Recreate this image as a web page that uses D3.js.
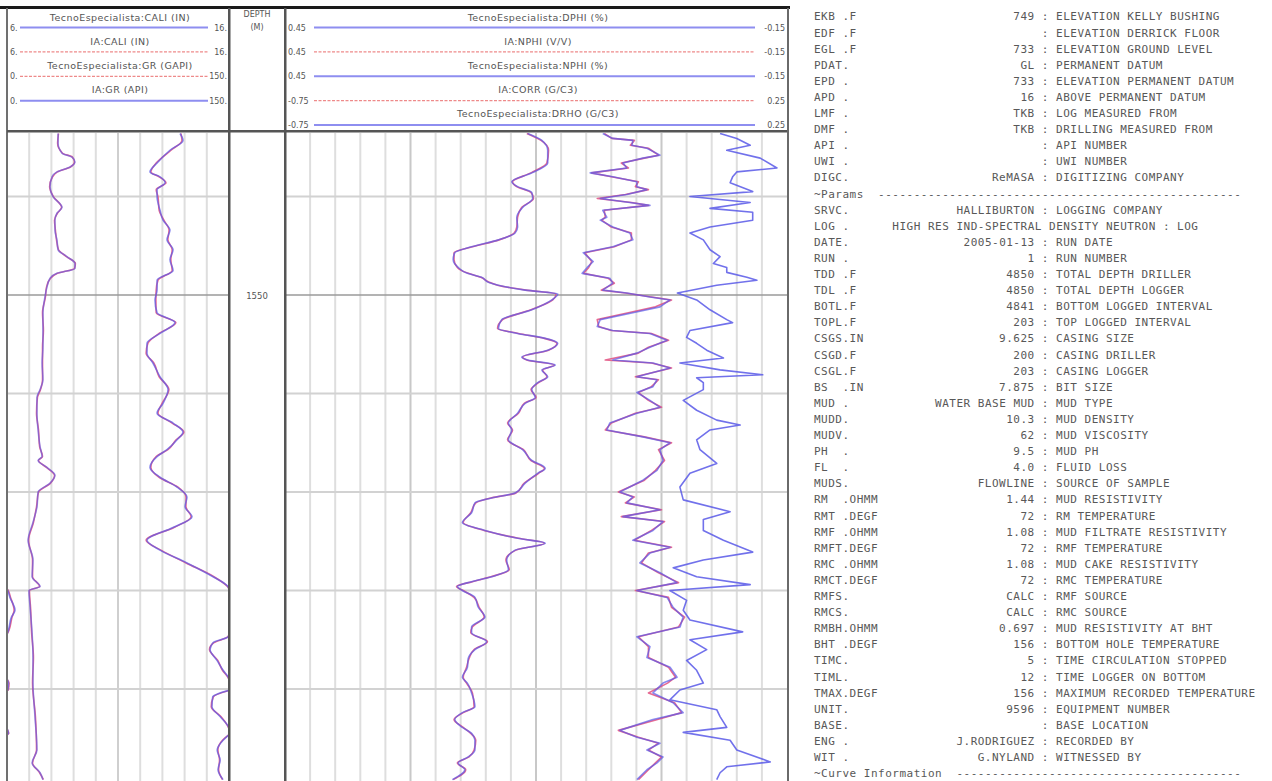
<!DOCTYPE html>
<html><head><meta charset="utf-8">
<script src="https://cdn.jsdelivr.net/npm/d3@7"></script>
<style>body{margin:0;background:#fff;} svg{display:block;}</style>
</head><body>
<svg id="c" width="1272" height="781"></svg>
<script>
// ---------------- DATA ----------------
const caliScale = [6, 16];
const grScale = [0, 150];
const porScale = [0.45, -0.15];
const denScale = [-0.75, 0.25];
const depthGrid = [1540, 1550, 1560, 1570, 1580, 1590, 1600];
const depthLabels = [1550];

const track1Header = [
  {name: "TecnoEspecialista:CALI (IN)", left: "6.", right: "16."},
  {name: "IA:CALI (IN)", left: "6.", right: "16."},
  {name: "TecnoEspecialista:GR (GAPI)", left: "0.", right: "150."},
  {name: "IA:GR (API)", left: "0.", right: "150."}
];
const track2Header = [
  {name: "TecnoEspecialista:DPHI (%)", left: "0.45", right: "-0.15"},
  {name: "IA:NPHI (V/V)", left: "0.45", right: "-0.15"},
  {name: "TecnoEspecialista:NPHI (%)", left: "0.45", right: "-0.15"},
  {name: "IA:CORR (G/C3)", left: "-0.75", right: "0.25"},
  {name: "TecnoEspecialista:DRHO (G/C3)", left: "-0.75", right: "0.25"}
];

const caliDepth = [1533.6,1534.6,1535.6,1536.0,1536.5,1537.0,1537.5,1538.0,1539.0,1540.0,1541.1,1541.7,1542.4,1543.4,1544.4,1545.4,1546.1,1546.8,1547.3,1547.8,1548.3,1549.2,1550.2,1551.8,1553.6,1555.3,1556.9,1558.6,1559.6,1560.4,1562.0,1563.7,1565.4,1566.4,1566.8,1567.5,1568.3,1569.1,1570.0,1571.5,1573.1,1574.9,1576.9,1578.6,1579.6,1580.0,1581.7,1584.3,1586.8,1589.4,1592.8,1596.2,1597.5,1598.5,1599.2];
const caliTE = [8.30,8.30,8.48,8.93,9.06,8.84,8.25,8.03,7.94,8.07,8.48,8.25,8.16,8.16,8.25,8.30,8.70,9.06,9.06,8.25,7.94,7.80,7.71,7.62,7.62,7.62,7.58,7.62,7.49,7.35,7.35,7.40,7.49,7.58,7.40,7.80,8.16,7.94,7.40,7.35,7.17,6.95,7.17,7.13,7.49,6.99,7.04,7.13,7.17,7.17,7.26,7.35,7.13,7.49,7.62];
const caliIA = [8.32,8.28,8.50,8.95,9.04,8.86,8.27,8.05,7.92,8.09,8.46,8.27,8.14,8.18,8.23,8.32,8.68,9.08,9.04,8.27,7.96,7.78,7.73,7.60,7.64,7.60,7.60,7.60,7.51,7.37,7.33,7.42,7.47,7.60,7.42,7.78,8.14,7.96,7.42,7.33,7.19,6.97,7.15,7.15,7.47,7.01,7.06,7.11,7.19,7.15,7.28,7.33,7.15,7.47,7.64];

const grDepth = [1533.6,1534.3,1535.3,1536.6,1537.5,1538.0,1538.6,1539.3,1540.0,1541.4,1542.4,1543.4,1544.4,1545.4,1546.4,1547.5,1548.5,1549.5,1550.5,1551.8,1552.8,1553.9,1554.9,1555.9,1556.9,1558.3,1559.6,1561.0,1562.0,1563.0,1563.9,1564.7,1565.7,1566.4,1567.5,1568.5,1569.5,1570.5,1571.5,1572.5,1573.6,1574.9,1575.9,1577.2,1578.6,1579.6,1580.0,1580.7,1582.0,1582.7,1584.0,1584.7,1585.3,1586.0,1587.1,1588.1,1588.8,1589.4,1590.1,1590.8,1591.8,1592.8,1593.9,1594.5,1595.2,1596.2,1597.2,1598.2,1599.2];
const grTE = [116.9,118.9,110.1,101.4,96.6,103.4,106.8,101.4,101.4,103.4,105.4,110.1,108.1,112.2,110.1,112.2,101.4,101.4,100.0,101.4,113.5,103.4,94.6,94.6,98.6,103.4,108.8,105.4,101.4,112.2,118.9,114.9,108.1,101.4,96.6,103.4,114.9,121.6,120.3,125.0,112.2,94.6,103.4,121.6,139.2,149.3,150.5,152,155.4,153,151,149.5,139.2,137.2,141.9,146,149.5,151,150.5,139,138.5,144,149.8,151,146,142,144,142.6,146];
const grIA = [117.5,118.2,110.8,100.8,97.2,102.8,107.4,100.8,102.0,102.8,106.0,109.5,108.7,111.6,110.7,111.6,102.0,100.8,100.6,100.8,114.1,102.8,95.2,94.0,99.2,102.8,109.4,104.8,102.0,111.6,119.5,114.3,108.7,100.8,97.2,102.8,115.5,121.0,120.9,124.4,112.8,94.0,104.0,121.0,139.8,149.0,150.8,152.4,154.8,153.4,151.4,149.2,139.8,136.8,142.4,145.6,149.2,151.4,150.8,139.4,138.0,144.5,149.6,151.2,145.6,142.5,143.6,143.0,145.6];

const nphiDepth = [1533.6,1534.3,1535.3,1536.6,1537.6,1538.5,1539.0,1539.6,1540.2,1541.1,1542.1,1543.1,1543.7,1544.4,1545.1,1545.7,1546.4,1547.2,1547.8,1548.2,1548.7,1549.0,1549.5,1549.9,1550.5,1551.5,1552.5,1553.4,1553.9,1554.4,1554.9,1555.6,1556.3,1556.6,1557.1,1557.6,1558.3,1558.9,1559.6,1560.4,1561.0,1562.0,1563.0,1563.7,1564.7,1565.7,1566.8,1567.6,1568.1,1569.1,1570.1,1570.6,1571.1,1572.1,1573.1,1573.9,1574.7,1575.2,1575.9,1576.9,1577.9,1578.6,1579.1,1579.6,1580.0,1580.7,1581.7,1582.7,1583.7,1584.3,1585.2,1586.0,1586.9,1587.8,1588.8,1589.4,1590.4,1591.8,1592.4,1593.1,1593.9,1594.5,1595.2,1596.2,1596.9,1597.5,1598.2,1599.2];
const nphiTE = [0.160,0.143,0.136,0.136,0.155,0.179,0.172,0.155,0.154,0.166,0.173,0.172,0.175,0.195,0.227,0.247,0.249,0.243,0.232,0.215,0.207,0.195,0.163,0.124,0.131,0.155,0.191,0.195,0.172,0.139,0.124,0.136,0.167,0.160,0.127,0.143,0.136,0.148,0.155,0.151,0.163,0.172,0.183,0.179,0.183,0.166,0.155,0.139,0.148,0.163,0.175,0.203,0.223,0.227,0.238,0.211,0.172,0.139,0.175,0.185,0.183,0.203,0.227,0.244,0.238,0.223,0.219,0.211,0.227,0.227,0.209,0.223,0.231,0.232,0.238,0.232,0.227,0.223,0.238,0.247,0.238,0.227,0.223,0.223,0.231,0.243,0.235,0.250];
const nphiIA = [0.161,0.144,0.135,0.137,0.156,0.178,0.173,0.156,0.153,0.167,0.172,0.173,0.176,0.194,0.226,0.248,0.248,0.244,0.231,0.216,0.206,0.196,0.162,0.126,0.130,0.156,0.190,0.196,0.171,0.140,0.125,0.135,0.166,0.161,0.128,0.142,0.137,0.147,0.156,0.150,0.164,0.171,0.184,0.178,0.184,0.165,0.156,0.140,0.147,0.164,0.174,0.204,0.222,0.228,0.237,0.212,0.171,0.140,0.174,0.186,0.182,0.204,0.226,0.245,0.237,0.224,0.218,0.212,0.226,0.228,0.208,0.224,0.230,0.233,0.237,0.233,0.226,0.224,0.237,0.248,0.237,0.228,0.222,0.224,0.230,0.244,0.234,0.249];

const denDepth = [1533.6,1534.1,1534.3,1534.8,1535.1,1535.8,1536.1,1536.6,1537.1,1537.6,
  1538.0,1538.5,1539.0,1539.3,1539.8,1540.2,1540.6,1540.9,1541.4,1542.1,
  1542.4,1543.1,1543.7,1544.4,1545.1,1545.7,1546.6,1547.2,1547.8,1548.3,
  1548.8,1549.5,1549.8,1550.2,1550.5,1551.2,1551.8,1552.5,1553.2,1553.6,
  1553.9,1554.6,1555.3,1555.9,1556.6,1556.9,1557.4,1558.3,1558.6,1559.3,
  1559.9,1560.7,1561.4,1562.0,1563.0,1563.7,1564.4,1565.0,1565.7,1566.8,
  1567.8,1568.8,1570.0,1570.5,1571.1,1571.8,1572.5,1573.0,1573.9,1574.9,
  1575.6,1576.2,1577.2,1578.2,1579.2,1580.0,1580.7,1581.7,1582.7,1583.7,
  1584.7,1585.7,1586.8,1587.8,1588.8,1589.4,1590.4,1591.4,1592.4,1593.1,
  1594.2,1594.9,1595.5,1596.2,1596.9,1597.5,1598.2,1599.2];
const drhoTE = [-0.117,-0.097,-0.057,-0.059,-0.029,-0.003,-0.037,-0.077,-0.069,-0.142,
  -0.097,-0.049,-0.049,-0.029,-0.069,-0.122,-0.063,-0.023,-0.117,-0.109,
  -0.122,-0.097,-0.063,-0.057,-0.097,-0.156,-0.136,-0.148,-0.158,-0.103,
  -0.097,-0.117,-0.069,-0.023,0.017,-0.003,-0.057,-0.122,-0.128,-0.097,
  -0.023,0.011,-0.023,-0.049,-0.097,-0.017,0.017,-0.049,-0.009,-0.017,
  -0.049,-0.023,-0.003,-0.049,-0.103,-0.109,-0.037,0.017,-0.003,0.003,
  -0.009,-0.037,-0.083,-0.057,-0.069,-0.003,-0.077,0.003,-0.017,-0.057,
  0.017,-0.023,-0.043,-0.003,0.031,-0.049,0.011,0.023,0.043,0.037,
  -0.049,-0.023,-0.029,0.017,0.031,0.003,-0.017,0.023,0.043,-0.017,
  -0.083,-0.049,-0.003,-0.029,0.003,-0.009,-0.029,-0.049];
const corrIA = [-0.114,-0.099,-0.054,-0.062,-0.026,-0.006,-0.034,-0.080,-0.066,-0.139,
  -0.100,-0.046,-0.052,-0.026,-0.072,-0.128,-0.060,-0.026,-0.114,-0.112,
  -0.119,-0.100,-0.060,-0.060,-0.094,-0.153,-0.139,-0.145,-0.155,-0.106,
  -0.094,-0.120,-0.072,-0.020,0.020,-0.012,-0.066,-0.128,-0.125,-0.100,
  -0.020,0.014,-0.026,-0.046,-0.112,-0.020,0.020,-0.052,-0.006,-0.020,
  -0.046,-0.026,0.000,-0.052,-0.100,-0.112,-0.034,0.020,-0.006,0.006,
  -0.012,-0.034,-0.086,-0.054,-0.072,0.000,-0.080,0.006,-0.020,-0.054,
  0.020,-0.026,-0.040,-0.006,0.034,-0.052,0.014,0.020,0.046,0.034,
  -0.046,-0.026,-0.026,0.014,0.028,0.012,-0.026,0.026,0.040,-0.008,
  -0.086,-0.046,-0.006,-0.026,0.000,-0.012,-0.026,-0.046];

const dphiDepth = [1533.6,1534.1,1534.8,1535.3,1536.1,1537.1,1537.5,1538.0,1538.6,1539.5,
  1540.0,1540.6,1541.2,1541.6,1542.4,1543.1,1543.7,1544.4,1545.4,1546.1,
  1546.8,1547.2,1547.7,1548.2,1548.5,1549.0,1549.8,1550.5,1551.5,1552.5,
  1552.8,1553.6,1554.3,1554.9,1555.6,1556.4,1556.9,1557.6,1558.1,1558.4,
  1558.9,1559.6,1560.7,1561.7,1562.7,1563.2,1563.7,1564.7,1565.7,1567.1,
  1568.1,1569.5,1570.8,1572.0,1572.8,1573.9,1574.9,1576.1,1576.9,1577.7,
  1578.6,1579.4,1580.0,1581.0,1582.0,1583.0,1584.2,1585.0,1586.0,1587.1,
  1588.1,1589.4,1590.1,1591.1,1592.1,1592.8,1593.9,1594.4,1595.2,1596.2,
  1597.4,1597.9,1598.5,1599.2];
const dphiTE = [-0.070,-0.090,-0.106,-0.078,-0.118,-0.138,-0.090,-0.085,-0.082,-0.109,
  -0.034,-0.106,-0.058,-0.109,-0.109,-0.058,-0.034,-0.050,-0.058,-0.070,
  -0.062,-0.078,-0.078,-0.102,-0.114,-0.066,-0.019,-0.042,-0.058,-0.078,
  -0.085,-0.034,-0.030,-0.042,-0.054,-0.074,-0.022,-0.070,-0.121,-0.042,
  -0.050,-0.050,-0.026,-0.042,-0.066,-0.094,-0.058,-0.042,-0.046,-0.066,
  -0.034,-0.022,-0.026,-0.082,-0.050,-0.050,-0.074,-0.109,-0.050,-0.014,
  -0.042,-0.106,-0.010,-0.030,-0.026,-0.034,-0.097,-0.034,-0.054,-0.030,
  -0.042,-0.050,-0.022,-0.010,-0.066,-0.070,-0.078,-0.026,-0.082,-0.090,
  -0.130,-0.078,-0.070,-0.066];

const lasMnem = ["EKB .F","EDF .F","EGL .F","PDAT.","EPD .","APD .","LMF .","DMF .","API .","UWI .","DIGC.","~Params","SRVC.","LOG .","DATE.","RUN .","TDD .F","TDL .F","BOTL.F","TOPL.F","CSGS.IN","CSGD.F","CSGL.F","BS  .IN","MUD .","MUDD.","MUDV.","PH  .","FL  .","MUDS.","RM  .OHMM","RMT .DEGF","RMF .OHMM","RMFT.DEGF","RMC .OHMM","RMCT.DEGF","RMFS.","RMCS.","RMBH.OHMM","BHT .DEGF","TIMC.","TIML.","TMAX.DEGF","UNIT.","BASE.","ENG .","WIT .","~Curve Information"];
const lasValue = ["749","","733","GL","733","16","TKB","TKB","","","ReMASA",null,"HALLIBURTON","HIGH RES IND-SPECTRAL DENSITY NEUTRON","2005-01-13","1","4850","4850","4841","203","9.625","200","203","7.875","WATER BASE MUD","10.3","62","9.5","4.0","FLOWLINE","1.44","72","1.08","72","1.08","72","CALC","CALC","0.697","156","5","12","156","9596","","J.RODRIGUEZ","G.NYLAND",null];
const lasDesc = ["ELEVATION KELLY BUSHING","ELEVATION DERRICK FLOOR","ELEVATION GROUND LEVEL","PERMANENT DATUM","ELEVATION PERMANENT DATUM","ABOVE PERMANENT DATUM","LOG MEASURED FROM","DRILLING MEASURED FROM","API NUMBER","UWI NUMBER","DIGITIZING COMPANY",null,"LOGGING COMPANY","LOG","RUN DATE","RUN NUMBER","TOTAL DEPTH DRILLER","TOTAL DEPTH LOGGER","BOTTOM LOGGED INTERVAL","TOP LOGGED INTERVAL","CASING SIZE","CASING DRILLER","CASING LOGGER","BIT SIZE","MUD TYPE","MUD DENSITY","MUD VISCOSITY","MUD PH","FLUID LOSS","SOURCE OF SAMPLE","MUD RESISTIVITY","RM TEMPERATURE","MUD FILTRATE RESISTIVITY","RMF TEMPERATURE","MUD CAKE RESISTIVITY","RMC TEMPERATURE","RMF SOURCE","RMC SOURCE","MUD RESISTIVITY AT BHT","BOTTOM HOLE TEMPERATURE","TIME CIRCULATION STOPPED","TIME LOGGER ON BOTTOM","MAXIMUM RECORDED TEMPERATURE","EQUIPMENT NUMBER","BASE LOCATION","RECORDED BY","WITNESSED BY",null];

// ---------------- LAYOUT ----------------
const svg = d3.select('#c');
const plotTop = 133, plotBottom = 781;
const depthTop = 1533.55, depthBottom = 1599.34;
const T1 = {x0: 7, x1: 229}, TD = {x0: 229, x1: 285}, T2 = {x0: 285, x1: 787};
const BLUE = "rgb(88,88,232)", RED = "rgb(226,80,128)";
const HBLUE = "#8e8ef0", HRED = "#ee8a8a";

const y = d3.scaleLinear().domain([depthTop, depthBottom]).range([plotTop, plotBottom]);
const xCali = d3.scaleLinear().domain(caliScale).range([T1.x0, T1.x1]);
const xGR = d3.scaleLinear().domain(grScale).range([T1.x0, T1.x1]);
const xPor = d3.scaleLinear().domain(porScale).range([T2.x0, T2.x1]);
const xDen = d3.scaleLinear().domain(denScale).range([T2.x0, T2.x1]);

const defs = svg.append('defs');
function clip(id, t) {
  defs.append('clipPath').attr('id', id).append('rect')
    .attr('x', t.x0 + 1).attr('y', plotTop).attr('width', t.x1 - t.x0 - 2).attr('height', plotBottom - plotTop);
}
clip('c1', T1); clip('c2', T2);

// grids
const grid = svg.append('g');
d3.range(caliScale[0] + 1, caliScale[1]).forEach(v => {
  grid.append('line').attr('x1', xCali(v)).attr('x2', xCali(v)).attr('y1', plotTop).attr('y2', plotBottom)
    .attr('stroke', v === 11 ? '#cfcfcf' : '#dedede').attr('stroke-width', 2);
});
d3.range(1, 20).forEach(i => {
  const v = porScale[0] + (porScale[1] - porScale[0]) * i / 20;
  grid.append('line').attr('x1', xPor(v)).attr('x2', xPor(v)).attr('y1', plotTop).attr('y2', plotBottom)
    .attr('stroke', i % 5 === 0 ? '#c8c8c8' : '#dedede').attr('stroke-width', 2);
});
depthGrid.forEach(d => {
  [T1, T2].forEach(t => {
    grid.append('line').attr('x1', t.x0).attr('x2', t.x1).attr('y1', y(d)).attr('y2', y(d))
      .attr('stroke', d === 1550 ? '#9a9a9a' : '#d2d2d2').attr('stroke-width', d === 1550 ? 1.5 : 2);
  });
});

// curves
function drawCurve(clipId, depths, vals, xs, color, op, curve) {
  const data = depths.map((d, i) => [d, vals[i]]);
  svg.append('path').datum(data)
    .attr('clip-path', `url(#${clipId})`)
    .attr('fill', 'none').attr('stroke', color).attr('stroke-opacity', op)
    .attr('stroke-width', 1.6).attr('stroke-linejoin', 'round')
    .attr('d', d3.line().x(p => xs(p[1])).y(p => y(p[0])).curve(curve));
}
function wrapSegments(depths, vals, max) {
  const segs = []; let cur = [];
  for (let i = 0; i < depths.length; i++) {
    const k = Math.floor(vals[i] / max);
    if (i > 0) {
      const k0 = Math.floor(vals[i - 1] / max);
      if (k0 !== k) {
        const b = max * Math.max(k0, k);
        const t = (b - vals[i - 1]) / (vals[i] - vals[i - 1]);
        const dc = depths[i - 1] + t * (depths[i] - depths[i - 1]);
        cur.push([dc, b - k0 * max]);
        segs.push(cur);
        cur = [[dc, b - k * max]];
      }
    }
    cur.push([depths[i], vals[i] - k * max]);
  }
  segs.push(cur);
  return segs;
}
function drawWrapped(clipId, depths, vals, xs, color, op) {
  wrapSegments(depths, vals, grScale[1]).forEach(seg => {
    svg.append('path').datum(seg)
      .attr('clip-path', `url(#${clipId})`)
      .attr('fill', 'none').attr('stroke', color).attr('stroke-opacity', op)
      .attr('stroke-width', 1.6).attr('stroke-linejoin', 'round')
      .attr('d', d3.line().x(p => xs(p[1])).y(p => y(p[0])).curve(d3.curveMonotoneY));
  });
}

drawCurve('c1', caliDepth, caliIA, xCali, RED, 0.85, d3.curveMonotoneY);
drawCurve('c1', caliDepth, caliTE, xCali, BLUE, 0.6, d3.curveMonotoneY);
drawWrapped('c1', grDepth, grIA, xGR, RED, 0.85);
drawWrapped('c1', grDepth, grTE, xGR, BLUE, 0.7);
drawCurve('c2', nphiDepth, nphiIA, xPor, RED, 0.85, d3.curveMonotoneY);
drawCurve('c2', nphiDepth, nphiTE, xPor, BLUE, 0.7, d3.curveMonotoneY);
drawCurve('c2', denDepth, corrIA, xDen, RED, 0.85, d3.curveLinear);
drawCurve('c2', denDepth, drhoTE, xDen, BLUE, 0.7, d3.curveLinear);
drawCurve('c2', dphiDepth, dphiTE, xPor, BLUE, 0.85, d3.curveLinear);

// frame
const fr = svg.append('g');
fr.append('rect').attr('x', 0).attr('y', 6).attr('width', 790).attr('height', 3).attr('fill', '#1a1a1a');
fr.append('rect').attr('x', 6).attr('y', 8).attr('width', 2).attr('height', 781).attr('fill', '#707070');
fr.append('rect').attr('x', 7).attr('y', 130).attr('width', 781).attr('height', 2.5).attr('fill', '#555');
[T1.x1, TD.x1].forEach(x => fr.append('rect').attr('x', x - 1).attr('y', 8).attr('width', 2.5).attr('height', 781).attr('fill', '#555'));
fr.append('rect').attr('x', T2.x1).attr('y', 8).attr('width', 2).attr('height', 781).attr('fill', '#6a6a6a');

// headers
const hdr = svg.append('g').attr('font-family', 'DejaVu Sans, sans-serif').attr('fill', '#555');
function header(list, t, lineX0, lineX1, colors) {
  list.forEach((h, i) => {
    const ty = 20.5 + 24.2 * i, ly = 27.5 + 24.4 * i;
    hdr.append('text').attr('x', (t.x0 + t.x1) / 2 + 2).attr('y', ty).attr('text-anchor', 'middle')
      .attr('font-size', 9.5).attr('letter-spacing', '0.45px').text(h.name);
    hdr.append('text').attr('x', t.x0 + 3).attr('y', ly + 3).attr('font-size', 8).text(h.left);
    hdr.append('text').attr('x', t.x1 - 2).attr('y', ly + 3).attr('font-size', 8).attr('text-anchor', 'end').text(h.right);
    const c = colors[i];
    hdr.append('line').attr('x1', lineX0).attr('x2', lineX1).attr('y1', ly).attr('y2', ly)
      .attr('stroke', c === 'b' ? HBLUE : HRED).attr('stroke-width', c === 'b' ? 2 : 1.2)
      .attr('stroke-dasharray', c === 'b' ? null : '3,1.5');
  });
}
header(track1Header, T1, 20, 208, ['b', 'r', 'r', 'b']);
header(track2Header, T2, 314, 755, ['b', 'r', 'b', 'r', 'b']);
hdr.append('text').attr('x', (TD.x0 + TD.x1) / 2).attr('y', 17).attr('font-size', 8).attr('text-anchor', 'middle').text('DEPTH');
hdr.append('text').attr('x', (TD.x0 + TD.x1) / 2).attr('y', 30).attr('font-size', 8).attr('text-anchor', 'middle').text('(M)');
depthLabels.forEach(d => hdr.append('text').attr('x', (TD.x0 + TD.x1) / 2).attr('y', y(d) + 3.5)
  .attr('font-size', 8.5).attr('text-anchor', 'middle').text(d));

// LAS header text (monospace columns)
const X0 = 814, CW = 7.12;
const las = svg.append('g').attr('font-family', 'DejaVu Sans Mono, monospace').attr('font-size', 11)
  .attr('letter-spacing', '0.5px').attr('fill', '#585858');
function put(col, yy, s) { las.append('text').attr('x', X0 + col * CW).attr('y', yy).text(s); }
lasMnem.forEach((m, i) => {
  const yy = 20.4 + i * 16.1;
  if (lasValue[i] === null) {
    put(0, yy, m);
    put(m.length + 2, yy, '-'.repeat(Math.max(0, 58 - m.length)));
    return;
  }
  const dot = m.indexOf('.');
  put(0, yy, m.slice(0, dot).trim());
  put(4, yy, m.slice(dot));
  const v = lasValue[i];
  const col = Math.max(11, 31 - v.length);
  if (v) put(col, yy, v);
  put(col + v.length + 1, yy, ': ' + lasDesc[i]);
});
</script>
</body></html>
